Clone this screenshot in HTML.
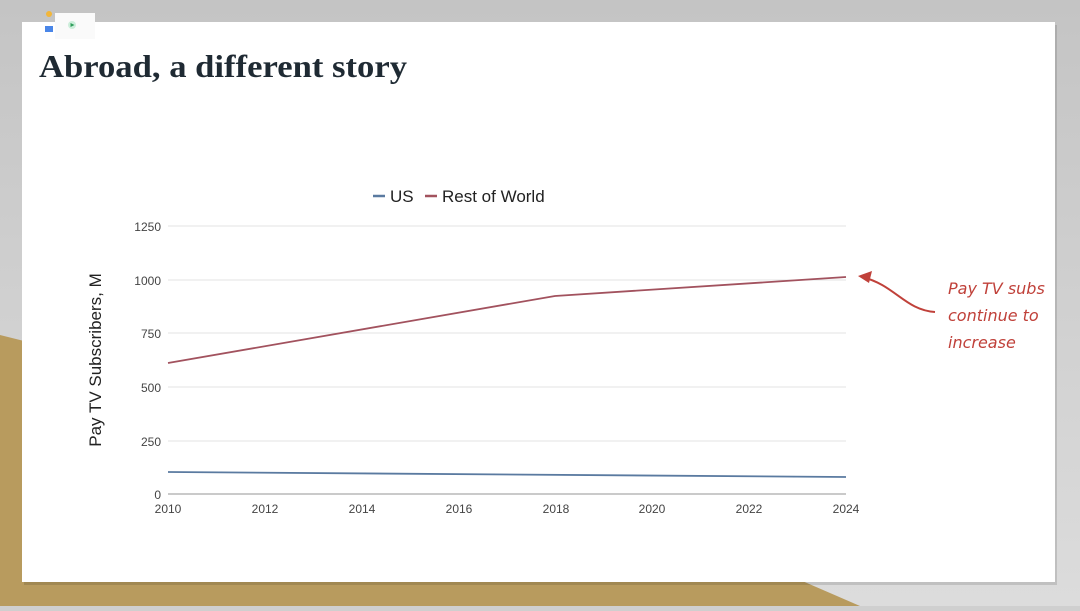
<!DOCTYPE html>
<html><head><style>
body{margin:0;width:1080px;height:606px;overflow:hidden;background:#cfcfcf;font-family:"Liberation Sans",sans-serif}
</style></head><body>
<svg width="1080" height="606" viewBox="0 0 1080 606" xmlns="http://www.w3.org/2000/svg">
<defs><linearGradient id="bg" x1="0" y1="0" x2="0" y2="1"><stop offset="0" stop-color="#c4c4c4"/><stop offset="1" stop-color="#dcdcdc"/></linearGradient></defs>
<rect width="1080" height="606" fill="url(#bg)"/>
<polygon points="0,335 40,345 40,606 0,606" fill="#b89b5e"/>
<polygon points="0,580 800,580 860,606 0,606" fill="#b89b5e"/>
<rect x="24" y="25" width="1033" height="560" fill="#000" opacity="0.12"/>
<rect x="22" y="22" width="1033" height="560" fill="#fff"/>
<rect x="55" y="13" width="40" height="26" fill="#fafafa"/>
<circle cx="49" cy="14" r="3" fill="#f2b63a"/>
<rect x="45" y="26" width="8" height="6" fill="#4a86e8"/>
<circle cx="72" cy="25" r="4" fill="#cdeedb"/><polygon points="70.5,23 74.5,25 70.5,27" fill="#2e9e5b"/>
<text x="39" y="77" font-family="Liberation Serif,serif" font-weight="bold" font-size="32" fill="#1f2a33" textLength="368" lengthAdjust="spacingAndGlyphs">Abroad, a different story</text>
<g stroke="#e3e3e3" stroke-width="1">
<line x1="168" y1="226" x2="846" y2="226"/><line x1="168" y1="280" x2="846" y2="280"/><line x1="168" y1="333" x2="846" y2="333"/><line x1="168" y1="387" x2="846" y2="387"/><line x1="168" y1="441" x2="846" y2="441"/>
</g>
<line x1="168" y1="494" x2="846" y2="494" stroke="#aaa" stroke-width="1.2"/>
<g font-size="12" fill="#444" text-anchor="end">
<text x="161" y="231">1250</text><text x="161" y="285">1000</text><text x="161" y="338">750</text><text x="161" y="392">500</text><text x="161" y="446">250</text><text x="161" y="499">0</text>
</g>
<g font-size="12" fill="#444" text-anchor="middle">
<text x="168" y="513">2010</text><text x="265" y="513">2012</text><text x="362" y="513">2014</text><text x="459" y="513">2016</text><text x="556" y="513">2018</text><text x="652" y="513">2020</text><text x="749" y="513">2022</text><text x="846" y="513">2024</text>
</g>
<text transform="translate(101,360) rotate(-90)" font-size="17" fill="#222" text-anchor="middle">Pay TV Subscribers, M</text>
<polyline points="168,363 555,296 846,277" fill="none" stroke="#a2525e" stroke-width="1.8"/>
<polyline points="168,472 846,477" fill="none" stroke="#5a7aa0" stroke-width="1.8"/>
<line x1="373" y1="196" x2="385" y2="196" stroke="#5a7aa0" stroke-width="2.5"/>
<text x="390" y="202" font-size="17" fill="#222">US</text>
<line x1="425" y1="196" x2="437" y2="196" stroke="#a2525e" stroke-width="2.5"/>
<text x="442" y="202" font-size="17" fill="#222">Rest of World</text>
<path d="M935,312 C905,310 895,285 862,277" fill="none" stroke="#c0413a" stroke-width="2"/>
<polygon points="858,276 872,271 869,283" fill="#c0413a"/>
<g font-family="'DejaVu Sans',sans-serif" font-style="italic" font-size="16" fill="#c0413a">
<text x="948" y="294">Pay TV subs</text><text x="948" y="321">continue to</text><text x="948" y="348">increase</text>
</g>
</svg>
</body></html>
